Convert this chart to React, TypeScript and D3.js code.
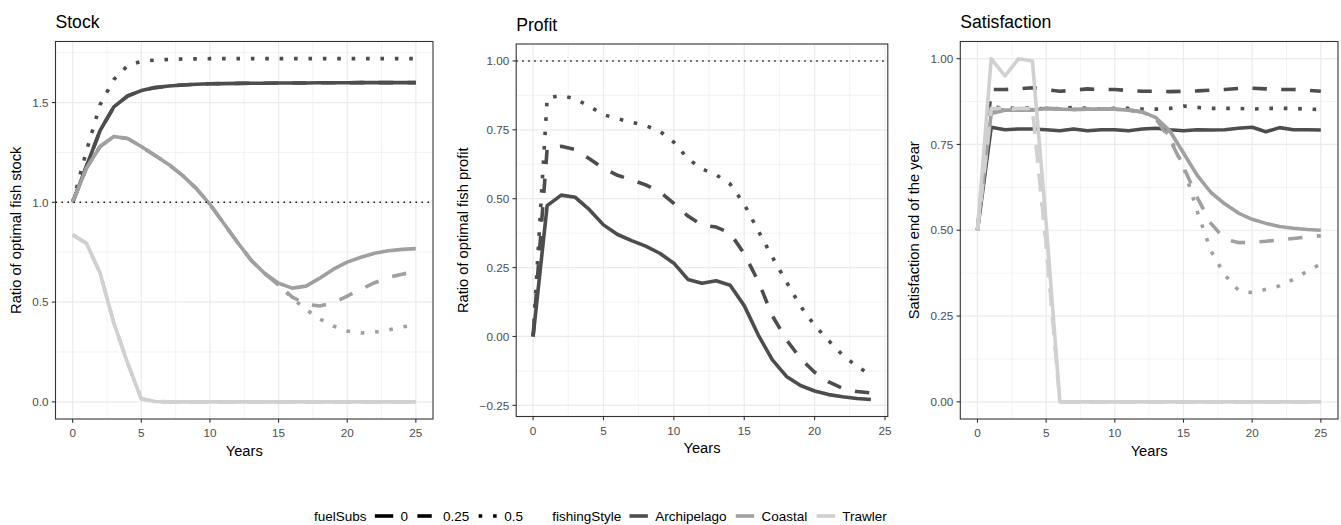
import * as d3 from 'd3';
import React, { useEffect, useRef } from 'react';

// x values
const yearsFull = [0, 1, 2, 3, 4, 5, 6, 7, 8, 9, 10, 11, 12, 13, 14, 15, 16, 17, 18, 19, 20, 21, 22, 23, 24, 25];
const yearsProfit = [0, 1, 2, 3, 4, 5, 6, 7, 8, 9, 10, 11, 12, 13, 14, 15, 16, 17, 18, 19, 20, 21, 22, 23, 24];

const fuelSubsLevels = ['0', '0.25', '0.5'];
const fishingStyles = ['Archipelago', 'Coastal', 'Trawler'];

// Stock
const stockArch0 = [1.0, 1.18, 1.36, 1.478, 1.533, 1.56, 1.575, 1.583, 1.588, 1.592, 1.594, 1.595, 1.596, 1.597, 1.597, 1.598, 1.598, 1.598, 1.599, 1.599, 1.599, 1.6, 1.6, 1.6, 1.6, 1.6];
const stockArch025 = [1.0, 1.18, 1.36, 1.478, 1.533, 1.56, 1.575, 1.583, 1.588, 1.592, 1.594, 1.595, 1.596, 1.597, 1.597, 1.598, 1.598, 1.598, 1.599, 1.599, 1.599, 1.6, 1.6, 1.6, 1.6, 1.6];
const stockArch05 = [1.0, 1.256, 1.49, 1.615, 1.685, 1.706, 1.713, 1.716, 1.718, 1.719, 1.72, 1.72, 1.72, 1.72, 1.72, 1.72, 1.72, 1.72, 1.72, 1.72, 1.72, 1.72, 1.72, 1.72, 1.72, 1.72];
const stockCoast0 = [1.0, 1.17, 1.28, 1.33, 1.32, 1.28, 1.235, 1.19, 1.135, 1.07, 0.99, 0.895, 0.8, 0.71, 0.643, 0.594, 0.57, 0.58, 0.62, 0.665, 0.7, 0.725, 0.745, 0.757, 0.764, 0.768];
const stockCoast025 = [1.0, 1.17, 1.28, 1.33, 1.32, 1.28, 1.235, 1.19, 1.135, 1.07, 0.99, 0.895, 0.8, 0.71, 0.643, 0.585, 0.525, 0.49, 0.48, 0.497, 0.53, 0.565, 0.597, 0.623, 0.64, 0.653];
const stockCoast05 = [1.0, 1.17, 1.28, 1.33, 1.32, 1.28, 1.235, 1.19, 1.135, 1.07, 0.99, 0.895, 0.8, 0.71, 0.643, 0.585, 0.52, 0.463, 0.415, 0.38, 0.355, 0.345, 0.35, 0.36, 0.375, 0.387];
const stockTrawl0 = [0.837, 0.795, 0.645, 0.395, 0.195, 0.015, 0.002, 0, 0, 0, 0, 0, 0, 0, 0, 0, 0, 0, 0, 0, 0, 0, 0, 0, 0, 0];
const stockTrawl025 = [0.837, 0.795, 0.645, 0.395, 0.195, 0.015, 0.002, 0, 0, 0, 0, 0, 0, 0, 0, 0, 0, 0, 0, 0, 0, 0, 0, 0, 0, 0];
const stockTrawl05 = [0.837, 0.795, 0.645, 0.395, 0.195, 0.015, 0.002, 0, 0, 0, 0, 0, 0, 0, 0, 0, 0, 0, 0, 0, 0, 0, 0, 0, 0, 0];

// Profit (only Archipelago shown)
const profitArch0 = [0, 0.475, 0.513, 0.505, 0.46, 0.405, 0.37, 0.348, 0.328, 0.302, 0.266, 0.207, 0.193, 0.202, 0.186, 0.112, 0.005, -0.085, -0.145, -0.178, -0.198, -0.211, -0.219, -0.225, -0.229];
const profitArch025 = [0, 0.683, 0.69, 0.678, 0.645, 0.61, 0.585, 0.568, 0.55, 0.525, 0.483, 0.437, 0.405, 0.397, 0.375, 0.3, 0.2, 0.075, -0.012, -0.08, -0.13, -0.165, -0.188, -0.2, -0.205];
const profitArch05 = [0, 0.865, 0.875, 0.862, 0.835, 0.805, 0.79, 0.778, 0.765, 0.745, 0.705, 0.645, 0.608, 0.587, 0.553, 0.48, 0.383, 0.288, 0.198, 0.11, 0.04, -0.015, -0.068, -0.108, -0.14];

// Satisfaction
const satArch0 = [0.5, 0.8, 0.793, 0.795, 0.795, 0.793, 0.79, 0.795, 0.79, 0.793, 0.793, 0.79, 0.795, 0.797, 0.793, 0.79, 0.793, 0.792, 0.793, 0.797, 0.8, 0.787, 0.799, 0.793, 0.793, 0.792];
const satArch025 = [0.5, 0.91, 0.91, 0.912, 0.915, 0.91, 0.905, 0.908, 0.912, 0.91, 0.91, 0.907, 0.905, 0.905, 0.904, 0.905, 0.906, 0.908, 0.91, 0.913, 0.914, 0.912, 0.91, 0.91, 0.908, 0.905];
const satArch05 = [0.5, 0.86, 0.855, 0.855, 0.857, 0.853, 0.855, 0.858, 0.855, 0.853, 0.855, 0.855, 0.853, 0.853, 0.855, 0.862, 0.858, 0.855, 0.855, 0.855, 0.853, 0.855, 0.855, 0.855, 0.853, 0.852];
const satCoast0 = [0.5, 0.84, 0.85, 0.85, 0.85, 0.855, 0.853, 0.852, 0.853, 0.853, 0.853, 0.85, 0.845, 0.828, 0.79, 0.725, 0.66, 0.61, 0.577, 0.55, 0.532, 0.52, 0.511, 0.506, 0.502, 0.5];
const satCoast025 = [0.5, 0.845, 0.853, 0.85, 0.85, 0.855, 0.853, 0.852, 0.853, 0.853, 0.853, 0.85, 0.845, 0.825, 0.765, 0.685, 0.595, 0.52, 0.474, 0.464, 0.465, 0.468, 0.472, 0.476, 0.48, 0.484];
const satCoast05 = [0.5, 0.848, 0.852, 0.85, 0.852, 0.855, 0.853, 0.852, 0.853, 0.853, 0.853, 0.85, 0.845, 0.825, 0.772, 0.685, 0.555, 0.44, 0.37, 0.325, 0.318, 0.328, 0.338, 0.357, 0.38, 0.402];
const satTrawl0 = [0.5, 1.0, 0.95, 1.0, 0.993, 0.52, 0, 0, 0, 0, 0, 0, 0, 0, 0, 0, 0, 0, 0, 0, 0, 0, 0, 0, 0, 0];
const satTrawl025 = [0.5, 0.855, 0.853, 0.855, 0.855, 0.46, 0, 0, 0, 0, 0, 0, 0, 0, 0, 0, 0, 0, 0, 0, 0, 0, 0, 0, 0, 0];
const satTrawl05 = [0.5, 0.857, 0.855, 0.853, 0.856, 0.45, 0, 0, 0, 0, 0, 0, 0, 0, 0, 0, 0, 0, 0, 0, 0, 0, 0, 0, 0, 0];

// ticks
const xMajor = [0, 5, 10, 15, 20, 25];
const xMinor = [2.5, 7.5, 12.5, 17.5, 22.5];
const stockYMajor = [0, 0.5, 1.0, 1.5];
const stockYMinor = [0.25, 0.75, 1.25, 1.75];
const profitYMajor = [-0.25, 0, 0.25, 0.5, 0.75, 1.0];
const profitYMinor = [-0.125, 0.125, 0.375, 0.625, 0.875];
const satYMajor = [0, 0.25, 0.5, 0.75, 1.0];
const satYMinor = [0.125, 0.375, 0.625, 0.875];

const FONT = "'Liberation Sans', Arial, Helvetica, sans-serif";
const colors = { Archipelago: '#4D4D4D', Coastal: '#A0A0A0', Trawler: '#D0D0D0' };
const LW = 3.6;
const dashes = { '0': null, '0.25': `${4 * LW},${4 * LW}`, '0.5': `${LW},${3 * LW}` };

const mk = (style, fuel, values) => ({ style, fuel, values });

const panels = [
    {
        title: 'Stock', yTitle: 'Ratio of optimal fish stock', years: yearsFull, hline: 1,
        yMajor: stockYMajor, yMinor: stockYMinor, fmt: d3.format('.1f'),
        series: [
            mk('Archipelago', '0', stockArch0), mk('Archipelago', '0.25', stockArch025), mk('Archipelago', '0.5', stockArch05),
            mk('Coastal', '0', stockCoast0), mk('Coastal', '0.25', stockCoast025), mk('Coastal', '0.5', stockCoast05),
            mk('Trawler', '0', stockTrawl0), mk('Trawler', '0.25', stockTrawl025), mk('Trawler', '0.5', stockTrawl05),
        ],
        box: { l: 55.5, r: 433, t: 41.5, b: 419 }, titleY: 28, xTickY: 437, xTitleY: 455.5, yTitleX: 20.5,
    },
    {
        title: 'Profit', yTitle: 'Ratio of optimal fish profit', years: yearsProfit, hline: 1,
        yMajor: profitYMajor, yMinor: profitYMinor, fmt: d3.format('.2f'),
        series: [
            mk('Archipelago', '0', profitArch0), mk('Archipelago', '0.25', profitArch025), mk('Archipelago', '0.5', profitArch05),
        ],
        box: { l: 516.2, r: 887.8, t: 44, b: 416.5 }, titleY: 31, xTickY: 434.5, xTitleY: 453, yTitleX: 467.5,
    },
    {
        title: 'Satisfaction', yTitle: 'Satisfaction end of the year', years: yearsFull, hline: null,
        yMajor: satYMajor, yMinor: satYMinor, fmt: d3.format('.2f'),
        series: [
            mk('Archipelago', '0', satArch0), mk('Archipelago', '0.25', satArch025), mk('Archipelago', '0.5', satArch05),
            mk('Coastal', '0', satCoast0), mk('Coastal', '0.25', satCoast025), mk('Coastal', '0.5', satCoast05),
            mk('Trawler', '0', satTrawl0), mk('Trawler', '0.25', satTrawl025), mk('Trawler', '0.5', satTrawl05),
        ],
        box: { l: 960.3, r: 1338, t: 41.5, b: 419 }, titleY: 28, xTickY: 437, xTitleY: 455.5, yTitleX: 919,
    },
];

// ggplot-like 5% expansion
const expand = ([a, b]) => {
    const d = (b - a) * 0.05;
    return [a - d, b + d];
};

const App = () => {
    const ref = useRef(null);

    useEffect(() => {
        const svg = d3.select(ref.current);
        svg.selectAll('*').remove();
        svg.append('rect').attr('width', 1341).attr('height', 525).attr('fill', 'white');

        panels.forEach(p => {
            const { box } = p;
            const allY = p.series.flatMap(s => s.values).concat(p.hline != null ? [p.hline] : []);
            const x = d3.scaleLinear().domain(expand(d3.extent(p.years))).range([box.l, box.r]);
            const y = d3.scaleLinear().domain(expand(d3.extent(allY))).range([box.b, box.t]);
            const g = svg.append('g');

            // grid
            const grid = (vals, w, vertical) => vals.forEach(v => {
                if (vertical) {
                    g.append('line').attr('x1', x(v)).attr('x2', x(v)).attr('y1', box.t).attr('y2', box.b)
                        .attr('stroke', '#EBEBEB').attr('stroke-width', w);
                } else {
                    g.append('line').attr('x1', box.l).attr('x2', box.r).attr('y1', y(v)).attr('y2', y(v))
                        .attr('stroke', '#EBEBEB').attr('stroke-width', w);
                }
            });
            grid(xMinor, 0.6, true);
            grid(p.yMinor, 0.6, false);
            grid(xMajor, 1.2, true);
            grid(p.yMajor, 1.2, false);

            // data lines
            const line = d3.line().x((d, i) => x(p.years[i])).y(d => y(d));
            p.series.forEach(s => {
                g.append('path')
                    .attr('d', line(s.values))
                    .attr('fill', 'none')
                    .attr('stroke', colors[s.style])
                    .attr('stroke-width', LW)
                    .attr('stroke-linejoin', 'round')
                    .attr('stroke-dasharray', dashes[s.fuel]);
            });

            if (p.hline != null) {
                g.append('line').attr('x1', box.l).attr('x2', box.r).attr('y1', y(p.hline)).attr('y2', y(p.hline))
                    .attr('stroke', '#1a1a1a').attr('stroke-width', 1.5).attr('stroke-dasharray', '1.5,4.5');
            }

            // border
            g.append('rect').attr('x', box.l).attr('y', box.t).attr('width', box.r - box.l).attr('height', box.b - box.t)
                .attr('fill', 'none').attr('stroke', '#333333').attr('stroke-width', 1.1);

            // ticks
            xMajor.forEach(v => {
                g.append('line').attr('x1', x(v)).attr('x2', x(v)).attr('y1', box.b).attr('y2', box.b + 3.7)
                    .attr('stroke', '#333333').attr('stroke-width', 1.1);
                g.append('text').attr('x', x(v)).attr('y', p.xTickY).attr('text-anchor', 'middle')
                    .attr('font-family', FONT).attr('font-size', 11.7).attr('fill', '#4D4D4D').text(v);
            });
            p.yMajor.forEach(v => {
                g.append('line').attr('x1', box.l - 3.7).attr('x2', box.l).attr('y1', y(v)).attr('y2', y(v))
                    .attr('stroke', '#333333').attr('stroke-width', 1.1);
                g.append('text').attr('x', box.l - 7).attr('y', y(v)).attr('dy', '0.36em').attr('text-anchor', 'end')
                    .attr('font-family', FONT).attr('font-size', 11.7).attr('fill', '#4D4D4D').text(p.fmt(v));
            });

            // titles
            g.append('text').attr('x', box.l).attr('y', p.titleY).attr('font-family', FONT).attr('font-size', 17.6)
                .attr('fill', 'black').text(p.title);
            g.append('text').attr('x', (box.l + box.r) / 2).attr('y', p.xTitleY).attr('text-anchor', 'middle')
                .attr('font-family', FONT).attr('font-size', 14.7).attr('fill', 'black').text('Years');
            g.append('text')
                .attr('transform', `translate(${p.yTitleX},${(box.t + box.b) / 2}) rotate(-90)`)
                .attr('text-anchor', 'middle').attr('font-family', FONT).attr('font-size', 14.7)
                .attr('fill', 'black').text(p.yTitle);
        });

        // legend
        const ly = 516;
        const lg = svg.append('g');
        let cx = 314;
        const addText = (t) => {
            const node = lg.append('text').attr('x', cx).attr('y', ly).attr('dy', '0.35em')
                .attr('font-family', FONT).attr('font-size', 13.5).attr('fill', 'black').text(t);
            cx += node.node().getComputedTextLength();
        };
        const addKey = (color, dash) => {
            lg.append('line').attr('x1', cx + 2.3).attr('x2', cx + 20.7).attr('y1', ly).attr('y2', ly)
                .attr('stroke', color).attr('stroke-width', LW).attr('stroke-dasharray', dash);
            cx += 23;
        };
        addText('fuelSubs');
        cx += 6;
        fuelSubsLevels.forEach(f => {
            addKey('black', dashes[f]);
            cx += 5;
            addText(f);
            cx += 7;
        });
        cx += 22;
        addText('fishingStyle');
        cx += 6;
        fishingStyles.forEach(s => {
            addKey(colors[s], null);
            cx += 5;
            addText(s);
            cx += 7;
        });
    }, []);

    return (
        <div>
            <svg ref={ref} width={1341} height={525} style={{ position: 'absolute', left: 0, top: 0 }} />
        </div>
    );
};

export default App;
